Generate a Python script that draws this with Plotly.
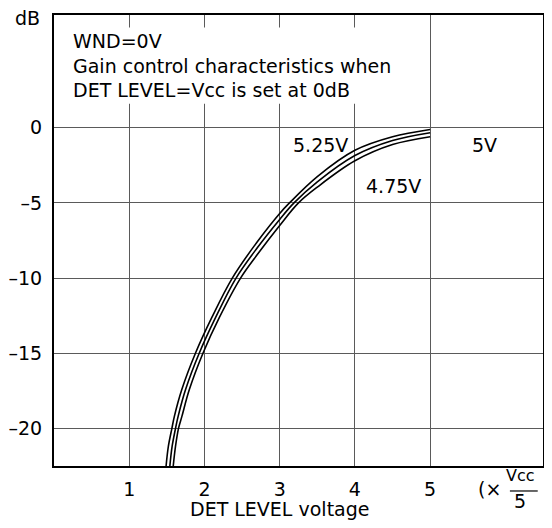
import plotly.graph_objects as go

# ---- data ----
x_525 = [1.49, 1.52, 1.567, 1.60, 1.70, 1.88, 2.10, 2.37, 2.70, 3.00, 3.13, 3.50, 4.00, 4.50, 5.00]
y_525 = [-22.5, -21.2, -20.0, -19.2, -17.4, -15.0, -12.6, -10.0, -7.6, -5.7, -5.0, -3.25, -1.5, -0.6, -0.12]

x_500 = [1.54, 1.57, 1.615, 1.65, 1.75, 1.93, 2.15, 2.42, 2.70, 3.00, 3.19, 3.50, 4.00, 4.50, 5.00]
y_500 = [-22.5, -21.2, -20.0, -19.2, -17.4, -15.0, -12.6, -10.0, -8.0, -6.1, -5.0, -3.6, -1.85, -0.85, -0.33]

x_475 = [1.585, 1.615, 1.655, 1.70, 1.80, 1.98, 2.20, 2.48, 2.70, 3.00, 3.25, 3.50, 4.00, 4.50, 5.00]
y_475 = [-22.5, -21.2, -20.0, -19.2, -17.4, -15.0, -12.6, -10.0, -8.45, -6.5, -5.0, -3.95, -2.2, -1.12, -0.6]

x_ticks = [1, 2, 3, 4, 5]
x_ticktext = ["1", "2", "3", "4", "5"]
y_ticks = [0, -5, -10, -15, -20]
y_ticktext = ["0", "\u20135", "\u201310", "\u201315", "\u201320"]

curve_labels = ["5.25V", "5V", "4.75V"]
note_lines = ["WND=0V", "Gain control characteristics when", "DET LEVEL=Vcc is set at 0dB"]

FONT = "DejaVu Sans"
FS = 19

fig = go.Figure()
for xs, ys, name in [(x_525, y_525, curve_labels[0]), (x_500, y_500, curve_labels[1]), (x_475, y_475, curve_labels[2])]:
    fig.add_trace(go.Scatter(x=xs, y=ys, mode="lines", name=name,
                             line=dict(color="black", width=1.6, shape="spline", smoothing=1.0),
                             showlegend=False, hoverinfo="skip"))

annotations = []
# curve labels
for txt, ax, ay in [(curve_labels[0], 3.54, -1.13), (curve_labels[1], 5.716, -1.17), (curve_labels[2], 4.515, -3.85)]:
    annotations.append(dict(x=ax, y=ay, xref="x", yref="y", text=txt, showarrow=False,
                            xanchor="center", yanchor="middle", font=dict(family=FONT, size=FS, color="black")))
# note text
for txt, ay in zip(note_lines, [5.75, 4.11, 2.53]):
    annotations.append(dict(x=0.225, y=ay, xref="x", yref="y", text=txt, showarrow=False,
                            xanchor="left", yanchor="middle", font=dict(family=FONT, size=FS, color="black")))
# dB unit label
annotations.append(dict(x=-0.024, y=1.0, xref="paper", yref="paper", text="dB", showarrow=False,
                        xanchor="right", yanchor="middle", yshift=-3, font=dict(family=FONT, size=FS, color="black")))
# x-axis title
annotations.append(dict(x=3.0, y=-0.095, xref="x", yref="paper", text="DET LEVEL voltage", showarrow=False,
                        xanchor="center", yanchor="middle", font=dict(family=FONT, size=FS, color="black")))
# (x Vcc/5) unit
annotations.append(dict(x=5.79, y=-0.051, xref="x", yref="paper", text="(\u00d7", showarrow=False,
                        xanchor="center", yanchor="middle", font=dict(family=FONT, size=FS, color="black")))
annotations.append(dict(x=6.2, y=-0.0215, xref="x", yref="paper", text="Vcc", showarrow=False,
                        xanchor="center", yanchor="middle", font=dict(family=FONT, size=16, color="black")))
annotations.append(dict(x=6.2, y=-0.077, xref="x", yref="paper", text="5", showarrow=False,
                        xanchor="center", yanchor="middle", font=dict(family=FONT, size=FS, color="black")))
annotations.append(dict(x=6.5, y=-0.051, xref="x", yref="paper", text=")", showarrow=False,
                        xanchor="center", yanchor="middle", xshift=3, font=dict(family=FONT, size=FS, color="black")))

shapes = [
    # white background behind the note text (interrupts the grid)
    dict(type="rect", xref="x", yref="y", x0=0.08, x1=4.5, y0=1.6, y1=6.67,
         fillcolor="white", line=dict(width=0), layer="above"),
    # fraction bar
    dict(type="line", xref="x", yref="paper", x0=6.06, x1=6.43, y0=-0.0554, y1=-0.0554,
         line=dict(color="black", width=1.2)),
]

fig.update_layout(
    width=552, height=528,
    margin=dict(l=46, r=17, t=7, b=70, autoexpand=False),
    paper_bgcolor="white", plot_bgcolor="white",
    font=dict(family=FONT, size=FS, color="black"),
    annotations=annotations, shapes=shapes,
    xaxis=dict(range=[0, 6.5], tickvals=x_ticks, ticktext=x_ticktext, showgrid=True,
               gridcolor="#5a5a5a", gridwidth=1, zeroline=False, showline=True, mirror=True,
               linecolor="black", linewidth=2, ticks="", ticklabelstandoff=5, automargin=False,
               tickfont=dict(family=FONT, size=FS, color="black"), fixedrange=True),
    yaxis=dict(range=[-22.5, 7.5], tickvals=y_ticks, ticktext=y_ticktext, showgrid=True,
               gridcolor="#5a5a5a", gridwidth=1, zeroline=False, showline=True, mirror=True,
               linecolor="black", linewidth=2, ticks="", ticklabelstandoff=6, automargin=False,
               tickfont=dict(family=FONT, size=FS, color="black"), fixedrange=True),
)

fig.write_html("out.html")
